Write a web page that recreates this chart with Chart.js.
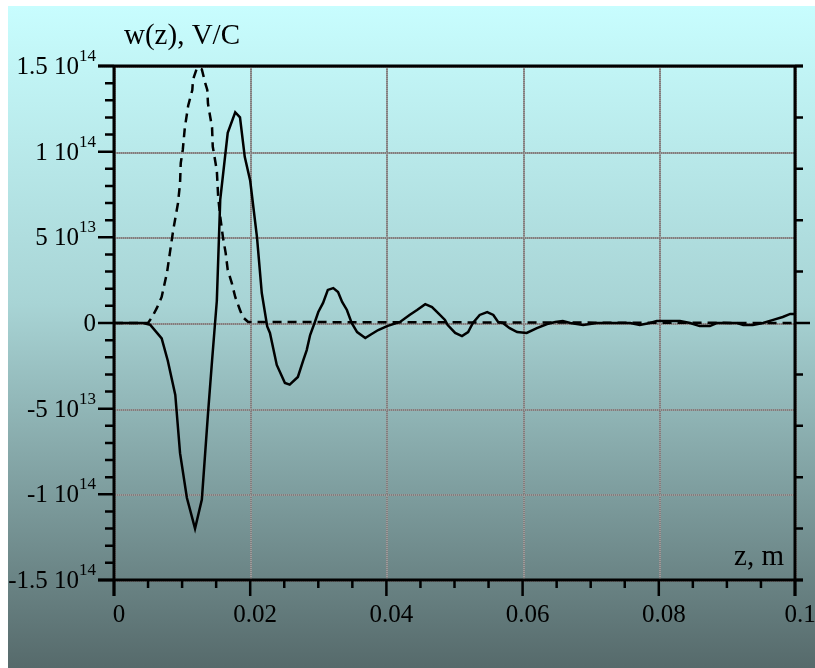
<!DOCTYPE html>
<html>
<head>
<meta charset="utf-8">
<script src="https://cdn.jsdelivr.net/npm/chart.js@4"></script>
<style>
  html, body { margin: 0; padding: 0; background: #fff; }
  canvas { display: block; }
</style>
</head>
<body>
<canvas id="wakeChart" width="815" height="668"></canvas>
<script>
// z in metres, w in units of 1e13 V/C
const zSolid = [0, 0.0035, 0.0043, 0.0053, 0.0070, 0.0079, 0.0090, 0.0097, 0.0107, 0.0119, 0.0129, 0.0138, 0.0144, 0.0151,
    0.0156, 0.0167, 0.0178, 0.0185, 0.0192, 0.0200, 0.0210, 0.0217, 0.0225, 0.0229, 0.0239, 0.0251, 0.0258, 0.0270,
    0.0278, 0.0283, 0.0288, 0.0295, 0.0300, 0.0307, 0.0314, 0.0322, 0.0329, 0.0335, 0.0342, 0.0349, 0.0357, 0.0369,
    0.0376, 0.0388, 0.0401, 0.0420, 0.0434, 0.0445, 0.0457, 0.0467, 0.0476, 0.0486, 0.0490, 0.0501, 0.0511, 0.0520,
    0.0527, 0.0537, 0.0548, 0.0557, 0.0564, 0.0571, 0.0581, 0.0592, 0.0606, 0.0621, 0.0636, 0.0648, 0.0659, 0.0670,
    0.0689, 0.0709, 0.0736, 0.0758, 0.0772, 0.0787, 0.0797, 0.0831, 0.0846, 0.0860, 0.0875, 0.0885, 0.0915, 0.0924,
    0.0938, 0.0953, 0.0968, 0.0982, 0.0993, 0.1000];
const wSolid = [0, 0, 0, -0.1, -0.9, -2.2, -4.2, -7.6, -10.2, -12.0, -10.3, -5.3, -2.2, 1.3,
    7.2, 11.1, 12.3, 12.0, 9.7, 8.3, 5.0, 1.75, -0.2, -0.58, -2.45, -3.5, -3.6, -3.15,
    -2.16, -1.58, -0.7, 0.06, 0.64, 1.17, 1.93, 2.04, 1.81, 1.23, 0.76, 0, -0.53, -0.88,
    -0.7, -0.41, -0.18, 0.06, 0.47, 0.76, 1.1, 0.93, 0.58, 0.18, -0.12, -0.58, -0.76, -0.53,
    0, 0.47, 0.64, 0.47, 0.06, 0, -0.3, -0.53, -0.58, -0.3, -0.06, 0.06, 0.12, 0,
    -0.12, 0, 0, 0, -0.12, 0, 0.12, 0.12, 0, -0.18, -0.18, 0, 0, -0.12,
    -0.12, 0, 0.18, 0.35, 0.53, 0.53];

const zDashed = [0, 0.0050, 0.0056, 0.0063, 0.0070, 0.0078, 0.0082, 0.0087, 0.0094, 0.0097, 0.0098, 0.0101, 0.0104,
    0.0109, 0.0115, 0.0116, 0.0122, 0.0129, 0.0134, 0.0137, 0.0138, 0.0144, 0.0145, 0.0151, 0.0153, 0.0156, 0.0160,
    0.0164, 0.0167, 0.0173, 0.0178, 0.0185, 0.0189, 0.0197, 0.1000];
const wDashed = [0, 0, 0.35, 0.88, 1.52, 2.98, 4.08, 5.43, 7.0, 8.17, 9.33, 10.1, 11.4,
    12.7, 13.6, 14.2, 14.9, 14.8, 14.0, 13.6, 12.8, 11.4, 10.3, 8.9, 7.35, 6.2, 5.0,
    4.08, 3.1, 2.33, 1.52, 0.76, 0.35, 0.06, 0];

const xTicks = [0, 0.02, 0.04, 0.06, 0.08, 0.1];
const xTickLabels = ['0', '0.02', '0.04', '0.06', '0.08', '0.1'];
const yTicks = [-15, -10, -5, 0, 5, 10, 15];
const yTickLabels = [['-1.5 10', '14'], ['-1 10', '14'], ['-5 10', '13'], ['0', ''], ['5 10', '13'], ['1 10', '14'], ['1.5 10', '14']];
const yTitle = 'w(z), V/C';
const xTitle = 'z, m';

const FONT = '"Liberation Serif", "Times New Roman", serif';

const framePlugin = {
    id: 'frame',
    beforeDraw(chart) {
        const ctx = chart.ctx;
        ctx.save();
        ctx.fillStyle = '#ffffff';
        ctx.fillRect(0, 0, chart.width, chart.height);
        const grad = ctx.createLinearGradient(0, 6, 0, chart.height);
        grad.addColorStop(0, '#c8fdfe');
        grad.addColorStop(0.45, '#a8d4d5');
        grad.addColorStop(1, '#566a6b');
        ctx.fillStyle = grad;
        ctx.fillRect(8, 6, chart.width - 8, chart.height - 6);

        const x = chart.scales.x, y = chart.scales.y;
        const a = chart.chartArea;
        // dotted grid
        ctx.lineWidth = 2;
        const gridLine = (x1, y1, x2, y2) => {
            ctx.setLineDash([]);
            ctx.strokeStyle = '#7e7e7e';
            ctx.beginPath(); ctx.moveTo(x1, y1); ctx.lineTo(x2, y2); ctx.stroke();
            ctx.setLineDash([1, 1]);
            ctx.strokeStyle = '#9c9c9c';
            ctx.beginPath(); ctx.moveTo(x1, y1); ctx.lineTo(x2, y2); ctx.stroke();
        };
        xTicks.forEach(v => {
            const px = Math.round(x.getPixelForValue(v)) + 1;
            gridLine(px, a.top, px, a.bottom);
        });
        yTicks.forEach(v => {
            const py = Math.round(y.getPixelForValue(v)) + 1;
            gridLine(a.left, py, a.right, py);
        });
        ctx.restore();
    },
    afterDatasetsDraw(chart) {
        const ctx = chart.ctx;
        const x = chart.scales.x, y = chart.scales.y;
        const a = chart.chartArea;
        const L = Math.round(a.left), R = Math.round(a.right), T = Math.round(a.top), B = Math.round(a.bottom);
        ctx.save();
        ctx.setLineDash([]);
        ctx.strokeStyle = '#000';
        ctx.lineCap = 'butt';

        // frame
        ctx.lineWidth = 3;
        ctx.beginPath();
        ctx.moveTo(L - 16, T); ctx.lineTo(R + 8, T);
        ctx.moveTo(L - 16, B); ctx.lineTo(R + 8, B);
        ctx.moveTo(L, T); ctx.lineTo(L, B + 16);
        ctx.moveTo(R, T); ctx.lineTo(R, B + 16);
        ctx.stroke();

        // left ticks every 1e13, major every 5e13
        ctx.lineWidth = 2.5;
        ctx.beginPath();
        for (let v = -15; v <= 15; v++) {
            const py = y.getPixelForValue(v);
            const len = (v % 5 === 0) ? 16 : 9;
            ctx.moveTo(L - len, py); ctx.lineTo(L, py);
        }
        // right ticks every 3e13
        for (let v = -15; v <= 15; v += 3) {
            const py = y.getPixelForValue(v);
            const len = v === 0 ? 15 : 8;
            ctx.moveTo(R, py); ctx.lineTo(R + len, py);
        }
        // bottom ticks every 0.005, major every 0.02
        for (let i = 0; i <= 20; i++) {
            const px = x.getPixelForValue(i * 0.005);
            const len = (i % 4 === 0) ? 16 : 8;
            ctx.moveTo(px, B); ctx.lineTo(px, B + len);
        }
        ctx.stroke();

        // labels
        ctx.fillStyle = '#000';
        ctx.font = '25px ' + FONT;
        ctx.textBaseline = 'alphabetic';
        ctx.textAlign = 'center';
        xTicks.forEach((v, i) => {
            ctx.fillText(xTickLabels[i], x.getPixelForValue(v) + 5, 622);
        });
        yTicks.forEach((v, i) => {
            const py = y.getPixelForValue(v);
            const [base, exp] = yTickLabels[i];
            ctx.textAlign = 'right';
            let right = 96;
            if (exp) {
                ctx.font = '17px ' + FONT;
                ctx.fillText(exp, right, py - 5);
                right -= ctx.measureText(exp).width;
            }
            ctx.font = '25px ' + FONT;
            ctx.fillText(base, right, py + 8);
        });

        ctx.font = '29px ' + FONT;
        ctx.textAlign = 'left';
        ctx.fillText(yTitle, 124, 44);
        ctx.textAlign = 'right';
        ctx.fillText(xTitle, 784, 565);
        ctx.restore();
    }
};

const toPoints = (zs, ws) => zs.map((z, i) => ({ x: z, y: ws[i] }));

new Chart(document.getElementById('wakeChart'), {
    type: 'line',
    data: {
        datasets: [
            {
                label: 'dashed',
                data: toPoints(zDashed, wDashed),
                borderColor: '#000',
                borderWidth: 2.5,
                borderDash: [9, 6],
                pointRadius: 0,
                tension: 0,
                fill: false
            },
            {
                label: 'solid',
                data: toPoints(zSolid, wSolid),
                borderColor: '#000',
                borderWidth: 2.5,
                pointRadius: 0,
                tension: 0,
                fill: false
            }
        ]
    },
    options: {
        responsive: false,
        animation: false,
        devicePixelRatio: 1,
        layout: { padding: { top: 66, right: 20, left: 0, bottom: 0 } },
        plugins: { legend: { display: false }, tooltip: { enabled: false } },
        scales: {
            x: {
                type: 'linear', min: 0, max: 0.1,
                grid: { display: false },
                border: { display: false },
                ticks: { display: false },
                afterFit: (s) => { s.height = 88; }
            },
            y: {
                type: 'linear', min: -15, max: 15,
                grid: { display: false },
                border: { display: false },
                ticks: { display: false },
                afterFit: (s) => { s.width = 114; }
            }
        }
    },
    plugins: [framePlugin]
});
</script>
</body>
</html>
